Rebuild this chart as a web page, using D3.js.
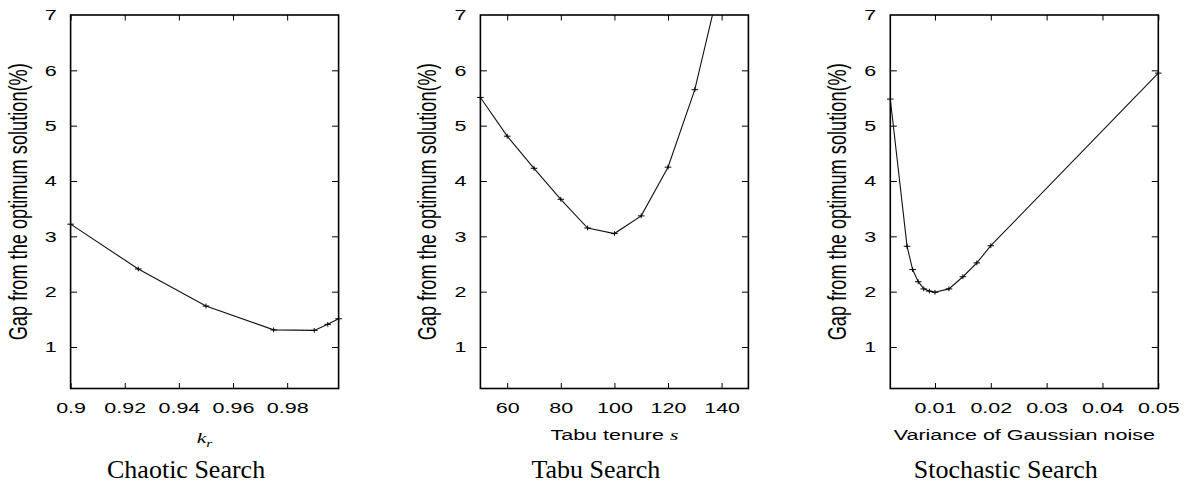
<!DOCTYPE html>
<html>
<head>
<meta charset="utf-8">
<script src="https://cdn.jsdelivr.net/npm/d3@7"></script>
<style>
  html, body { margin: 0; padding: 0; background: #fff; }
  svg { display: block; }
</style>
</head>
<body>
<svg id="chart" width="1187" height="483"></svg>
<script>
// ---------- data ----------
const yTickValues = [1, 2, 3, 4, 5, 6, 7];

const chaoticX = [0.9, 0.925, 0.95, 0.975, 0.99, 0.995, 0.999];
const chaoticY = [3.22, 2.41, 1.74, 1.31, 1.30, 1.41, 1.51];
const chaoticTicks = [0.9, 0.92, 0.94, 0.96, 0.98];
const chaoticTickLabels = ["0.9", "0.92", "0.94", "0.96", "0.98"];

const tabuX = [50, 60, 70, 80, 90, 100, 110, 120, 130, 140];
const tabuY = [5.51, 4.81, 4.23, 3.67, 3.15, 3.05, 3.37, 4.25, 5.65, 7.7];
const tabuTicks = [60, 80, 100, 120, 140];
const tabuTickLabels = ["60", "80", "100", "120", "140"];

const stochX = [0.002, 0.005, 0.006, 0.007, 0.008, 0.009, 0.01, 0.0125, 0.015, 0.0175, 0.02, 0.05];
const stochY = [5.48, 2.82, 2.40, 2.18, 2.05, 2.01, 1.99, 2.05, 2.27, 2.52, 2.83, 5.95];
const stochTicks = [0.01, 0.02, 0.03, 0.04, 0.05];
const stochTickLabels = ["0.01", "0.02", "0.03", "0.04", "0.05"];

const yLabel = "Gap from the optimum solution(%)";
const captions = ["Chaotic Search", "Tabu Search", "Stochastic Search"];

// ---------- layout ----------
const svg = d3.select("#chart");
const SANS = "'Liberation Sans', Arial, Helvetica, sans-serif";
const SERIF = "'Liberation Serif', 'Times New Roman', serif";
const FS = 21.5;      // plot font size
const SQ = 0.7;       // vertical squash of plot image
const plotTop = 15, plotBottom = 388.5, plotW = 268;
const lefts = [70.6, 480.4, 890.3];

const panels = [
  { xs: chaoticX, ys: chaoticY, domain: [0.9, 0.999], ticks: chaoticTicks, labels: chaoticTickLabels, xlabel: "kr" },
  { xs: tabuX, ys: tabuY, domain: [50, 150], ticks: tabuTicks, labels: tabuTickLabels, xlabel: "tabu" },
  { xs: stochX, ys: stochY, domain: [0.002, 0.05], ticks: stochTicks, labels: stochTickLabels, xlabel: "var" }
];

const y = d3.scaleLinear().domain([0.25, 7]).range([plotBottom, plotTop]);

panels.forEach((p, i) => {
  const left = lefts[i], right = left + plotW;
  const x = d3.scaleLinear().domain(p.domain).range([left, right]);
  const g = svg.append("g");

  const clipId = "clip" + i;
  svg.append("clipPath").attr("id", clipId)
    .append("rect").attr("x", left).attr("y", plotTop).attr("width", plotW).attr("height", plotBottom - plotTop);

  // axes (ticks inward, mirrored)
  const yAxisL = d3.axisLeft(y).tickValues(yTickValues).tickSize(-6.5).tickSizeOuter(0).tickPadding(14).tickFormat(d3.format("d"));
  const yAxisR = d3.axisRight(y).tickValues(yTickValues.filter(v => v < 7)).tickSize(-6.5).tickSizeOuter(0).tickFormat("");
  const xAxisB = d3.axisBottom(x).tickValues(p.ticks).tickSize(-5.5).tickSizeOuter(0).tickFormat((d, k) => p.labels[k]);
  const xAxisT = d3.axisTop(x).tickValues(p.ticks).tickSize(-5.5).tickSizeOuter(0).tickFormat("");

  const gl = g.append("g").attr("transform", `translate(${left},0)`).call(yAxisL);
  const gr = g.append("g").attr("transform", `translate(${right},0)`).call(yAxisR);
  const gb = g.append("g").attr("transform", `translate(0,${plotBottom})`).call(xAxisB);
  const gt = g.append("g").attr("transform", `translate(0,${plotTop})`).call(xAxisT);

  [gl, gr, gb, gt].forEach(a => {
    a.select(".domain").remove();
    a.selectAll(".tick line").attr("stroke", "#000").attr("stroke-width", 1);
  });
  gl.selectAll(".tick").filter(d => d === 7).select("line").remove();
  gl.selectAll(".tick text")
    .attr("font-family", SANS).attr("font-size", FS).attr("fill", "#000")
    .attr("transform", `scale(1,${SQ})`);
  gb.selectAll(".tick text")
    .attr("font-family", SANS).attr("font-size", FS).attr("fill", "#000")
    .attr("y", 24.8 / SQ).attr("dy", 0)
    .attr("transform", `scale(1,${SQ})`);

  // border
  g.append("rect").attr("x", left).attr("y", plotTop).attr("width", plotW).attr("height", plotBottom - plotTop)
    .attr("fill", "none").attr("stroke", "#000").attr("stroke-width", 1.6);

  // data line
  const pts = p.xs.map((v, k) => [v, p.ys[k]]);
  const line = d3.line().x(d => x(d[0])).y(d => y(d[1]));
  g.append("path").datum(pts).attr("d", line)
    .attr("fill", "none").attr("stroke", "#111").attr("stroke-width", 1.1)
    .attr("clip-path", `url(#${clipId})`);

  // markers "+"
  g.selectAll(".mk").data(pts.filter(d => d[1] <= 7)).enter().append("path")
    .attr("d", d => `M${x(d[0]) - 3.3},${y(d[1])}H${x(d[0]) + 3.3}M${x(d[0])},${y(d[1]) - 2.4}V${y(d[1]) + 2.4}`)
    .attr("stroke", "#000").attr("stroke-width", 1);

  // y label
  g.append("text")
    .attr("transform", `translate(${left - 44},${(plotTop + plotBottom) / 2}) scale(1,${SQ}) rotate(-90)`)
    .attr("text-anchor", "middle").attr("font-family", SANS).attr("font-size", 26).attr("fill", "#000")
    .text(yLabel);

  // x label
  const cx = (left + right) / 2;
  if (p.xlabel === "kr") {
    const t = g.append("text")
      .attr("transform", `translate(${cx},443) scale(1,${SQ})`)
      .attr("text-anchor", "middle").attr("font-family", SERIF).attr("font-style", "italic")
      .attr("font-size", FS).attr("fill", "#000");
    t.append("tspan").text("k");
    t.append("tspan").attr("font-size", FS * 0.72).attr("dy", 6).text("r");
  } else if (p.xlabel === "tabu") {
    const t = g.append("text")
      .attr("transform", `translate(${cx},439.5) scale(1,${SQ})`)
      .attr("text-anchor", "middle").attr("font-family", SANS).attr("font-size", FS).attr("fill", "#000");
    t.append("tspan").text("Tabu tenure ");
    t.append("tspan").attr("font-family", SERIF).attr("font-style", "italic").text("s");
  } else {
    g.append("text")
      .attr("transform", `translate(${cx},440) scale(1,${SQ})`)
      .attr("text-anchor", "middle").attr("font-family", SANS).attr("font-size", FS).attr("fill", "#000")
      .text("Variance of Gaussian noise");
  }

  // caption
  g.append("text")
    .attr("x", left + 115.5).attr("y", 478)
    .attr("text-anchor", "middle").attr("font-family", SERIF).attr("font-size", 26).attr("fill", "#000")
    .text(captions[i]);
});
</script>
</body>
</html>
